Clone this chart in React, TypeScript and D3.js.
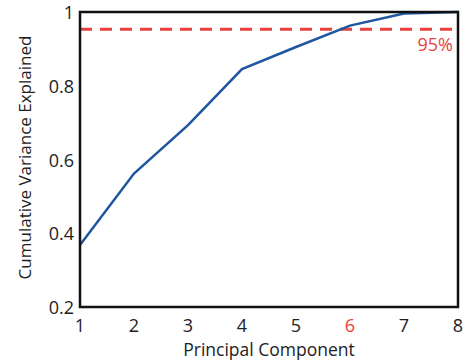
import React from "react";
import * as d3 from "d3";

const components = [1, 2, 3, 4, 5, 6, 7, 8];
const cumulative = [0.368, 0.562, 0.693, 0.845, 0.905, 0.963, 0.996, 1.0];
const yTicks = [0.2, 0.4, 0.6, 0.8, 1];
const threshold = 0.953;
const thresholdLabel = "95%";
const highlightComponent = 6;

export default function App() {
  const W = 467, H = 362;
  const m = { left: 80, top: 12, right: 9, bottom: 55 };
  const x = d3.scaleLinear().domain([1, 8]).range([m.left, W - m.right]);
  const y = d3.scaleLinear().domain([0.2, 1]).range([H - m.bottom, m.top]);
  const line = d3.line<number>().x((_, i) => x(components[i])).y((d) => y(d));
  const font = "'Open Sans', 'Liberation Sans', sans-serif";
  return (
    <svg width={W} height={H} style={{ position: "absolute", left: 0, top: 0 }} fontFamily={font}>
      <rect x={0} y={0} width={W} height={H} fill="#fff" />
      <line x1={x(1)} x2={x(8)} y1={y(threshold)} y2={y(threshold)} stroke="#e8413c" strokeWidth={3} strokeDasharray="12 8" />
      <path d={line(cumulative) || ""} fill="none" stroke="#1f56a0" strokeWidth={2.5} />
      <rect x={x(1)} y={y(1)} width={x(8) - x(1)} height={y(0.2) - y(1)} fill="none" stroke="#111" strokeWidth={2.5} />
      <text x={x(8) - 5} y={y(threshold) + 22} textAnchor="end" fill="#e8413c" fontSize={18}>{thresholdLabel}</text>
      {yTicks.map((t) => (
        <text key={t} x={x(1) - 6} y={y(t) + 7} textAnchor="end" fontSize={18} fill="#222">{String(t)}</text>
      ))}
      {components.map((c) => (
        <text key={c} x={x(c)} y={H - m.bottom + 25} textAnchor="middle" fontSize={18} fill={c === highlightComponent ? "#e8413c" : "#222"}>{c}</text>
      ))}
      <text x={(x(1) + x(8)) / 2} y={H - 6} textAnchor="middle" fontSize={17.5} fill="#222">Principal Component</text>
      <text transform={`translate(31, ${(y(0.2) + y(1)) / 2 - 2}) rotate(-90)`} textAnchor="middle" fontSize={17} fill="#222">Cumulative Variance Explained</text>
    </svg>
  );
}
